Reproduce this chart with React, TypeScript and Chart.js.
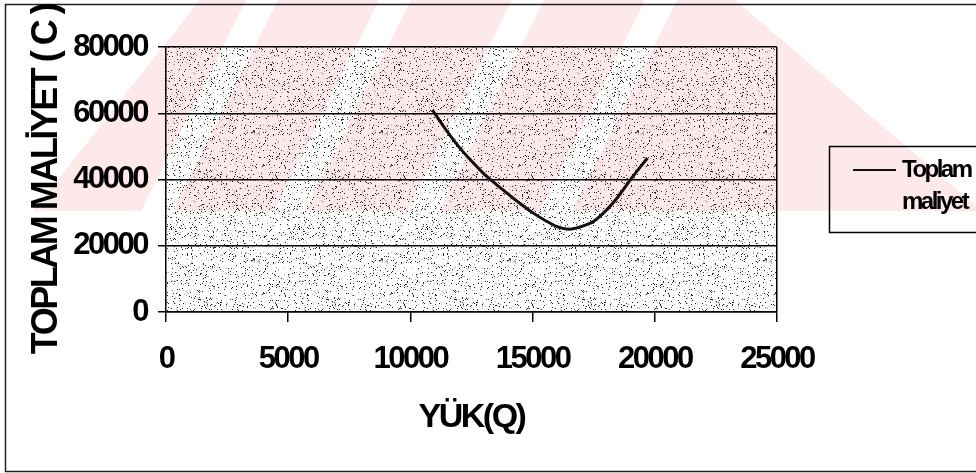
import React, { useEffect, useRef } from "react";
import { Chart, registerables } from "chart.js";

Chart.register(...registerables);

// ---- data ----
const loadQ = [10900, 11500, 12000, 12500, 13000, 13500, 14000, 14500, 15000, 15500, 16000, 16500, 17000, 17500, 18000, 18500, 19000, 19700];
const totalCost = [61000, 54500, 49700, 45600, 41800, 38600, 35600, 32700, 30000, 27700, 25800, 25000, 25800, 27400, 30600, 34800, 39900, 46500];
const xTicks = [0, 5000, 10000, 15000, 20000, 25000];
const yTicks = [0, 20000, 40000, 60000, 80000];
const seriesLabel = "Toplam maliyet";
const xTitle = "YÜK(Q)";
const yTitle = "TOPLAM MALİYET ( C )";

const FONT = "'Liberation Sans', Arial, sans-serif";
const SPACING = "-2.5px";
const PINK = "#fde8ea";

function hash(x: number, y: number): number {
  let n = (Math.imul(x, 374761393) + Math.imul(y, 668265263)) | 0;
  n = Math.imul(n ^ (n >>> 13), 1274126177);
  n = n ^ (n >>> 16);
  return (n >>> 0) / 4294967296;
}

function makeStipple(ctx: CanvasRenderingContext2D): CanvasPattern | null {
  const t = document.createElement("canvas");
  t.width = 128;
  t.height = 128;
  const c = t.getContext("2d")!;
  for (let y = 0; y < 128; y++) {
    for (let x = 0; x < 128; x++) {
      const h = hash(x, y);
      if (h < 0.06) {
        c.fillStyle = "rgba(0,0,0,0.85)";
        c.fillRect(x, y, 1, 1);
      } else if (h < 0.1) {
        c.fillStyle = "rgba(60,60,60,0.4)";
        c.fillRect(x, y, 1, 1);
      }
    }
  }
  return ctx.createPattern(t, "repeat");
}

const backgroundPlugin = {
  id: "bgWatermark",
  beforeDraw(chart: any) {
    const { ctx, width, height, chartArea } = chart;
    (ctx as any).letterSpacing = SPACING;
    ctx.save();
    ctx.fillStyle = "#fff";
    ctx.fillRect(0, 0, width, height);
    // faint watermark band
    ctx.fillStyle = PINK;
    ctx.beginPath();
    ctx.moveTo(33, 211);
    ctx.lineTo(200, 0);
    ctx.lineTo(735, 0);
    ctx.lineTo(985, 211);
    ctx.closePath();
    ctx.fill();
    ctx.fillStyle = "#fff";
    [262, 395, 528, 661].forEach((c) => {
      ctx.beginPath();
      ctx.moveTo(c - 16, 0);
      ctx.lineTo(c + 16, 0);
      ctx.lineTo(c + 16 - 105, 211);
      ctx.lineTo(c - 16 - 105, 211);
      ctx.closePath();
      ctx.fill();
    });
    // white "\" gap on the right arm
    ctx.beginPath();
    ctx.moveTo(770, 30);
    ctx.lineTo(795, 30);
    ctx.lineTo(1000, 205);
    ctx.lineTo(975, 205);
    ctx.closePath();
    ctx.fill();
    // stippled plot area
    const pat = makeStipple(ctx);
    if (pat) {
      ctx.fillStyle = pat;
      ctx.fillRect(chartArea.left, chartArea.top, chartArea.right - chartArea.left, chartArea.bottom - chartArea.top);
    }
    // outer chart border
    ctx.strokeStyle = "#222";
    ctx.lineWidth = 1.5;
    ctx.strokeRect(5.5, 4.5, 1200, 467);
    ctx.restore();
  },
};

const legendPlugin = {
  id: "boxLegend",
  afterDraw(chart: any) {
    const { ctx } = chart;
    const ds = chart.data.datasets[0];
    ctx.save();
    ctx.strokeStyle = "#000";
    ctx.lineWidth = 1.5;
    ctx.strokeRect(829.5, 146.5, 400, 86);
    ctx.strokeStyle = ds.borderColor;
    ctx.lineWidth = 2;
    ctx.beginPath();
    ctx.moveTo(853, 170);
    ctx.lineTo(896, 170);
    ctx.stroke();
    ctx.fillStyle = "#000";
    ctx.font = `bold 24px ${FONT}`;
    ctx.textAlign = "left";
    ctx.textBaseline = "alphabetic";
    const words = String(ds.label).split(" ");
    words.forEach((w, i) => ctx.fillText(w, 902, 177 + i * 32));
    ctx.restore();
  },
};

export default function App() {
  const ref = useRef<HTMLCanvasElement | null>(null);
  useEffect(() => {
    document.body.style.margin = "0";
    const canvas = ref.current!;
    const c2d = canvas.getContext("2d") as any;
    if (c2d) c2d.letterSpacing = SPACING;
    const chart = new Chart(canvas, {
      type: "line",
      data: {
        datasets: [
          {
            label: seriesLabel,
            data: loadQ.map((q, i) => ({ x: q, y: totalCost[i] })),
            borderColor: "#111",
            borderWidth: 3,
            pointRadius: 0,
            fill: false,
            cubicInterpolationMode: "monotone",
          },
        ],
      },
      options: {
        responsive: false,
        animation: false,
        devicePixelRatio: 1,
        layout: { padding: { left: 0, top: 47, right: 199, bottom: 0 } },
        plugins: { legend: { display: false }, tooltip: { enabled: false } },
        scales: {
          x: {
            type: "linear",
            min: xTicks[0],
            max: xTicks[xTicks.length - 1],
            afterBuildTicks: (s: any) => {
              s.ticks = xTicks.map((v) => ({ value: v }));
            },
            afterFit: (s: any) => {
              s.height = 161;
            },
            grid: {
              drawOnChartArea: true,
              color: (c: any) => (c.tick && c.tick.value === xTicks[xTicks.length - 1] ? "#000" : "rgba(0,0,0,0)"),
              lineWidth: 1.5,
              tickLength: 10,
              tickColor: "#000",
              tickWidth: 1.5,
            },
            border: { display: true, color: "#000", width: 1.5 },
            ticks: {
              color: "#000",
              padding: 19,
              maxRotation: 0,
              font: { family: FONT, size: 31, weight: "bold" },
              callback: (v: any) => String(v),
            },
            title: {
              display: true,
              text: xTitle,
              color: "#000",
              font: { family: FONT, size: 34, weight: "bold" },
              padding: { top: 0, bottom: 35 },
            },
          },
          y: {
            type: "linear",
            min: yTicks[0],
            max: yTicks[yTicks.length - 1],
            afterBuildTicks: (s: any) => {
              s.ticks = yTicks.map((v) => ({ value: v }));
            },
            afterFit: (s: any) => {
              s.width = 166;
            },
            grid: {
              color: "#000",
              lineWidth: 1.5,
              tickLength: 8,
              tickColor: "#000",
            },
            border: { display: true, color: "#000", width: 1.5 },
            ticks: {
              color: "#000",
              padding: 11,
              font: { family: FONT, size: 31, weight: "bold" },
              callback: (v: any) => String(v),
            },
            title: {
              display: true,
              text: yTitle,
              color: "#000",
              font: { family: FONT, size: 36, weight: "bold" },
              padding: { top: 25, bottom: 0 },
            },
          },
        },
      },
      plugins: [backgroundPlugin, legendPlugin],
    } as any);
    return () => chart.destroy();
  }, []);
  return (
    <div style={{ position: "absolute", left: 0, top: 0, width: 976, height: 473 }}>
      <canvas ref={ref} width={976} height={473} style={{ display: "block" }} />
    </div>
  );
}
